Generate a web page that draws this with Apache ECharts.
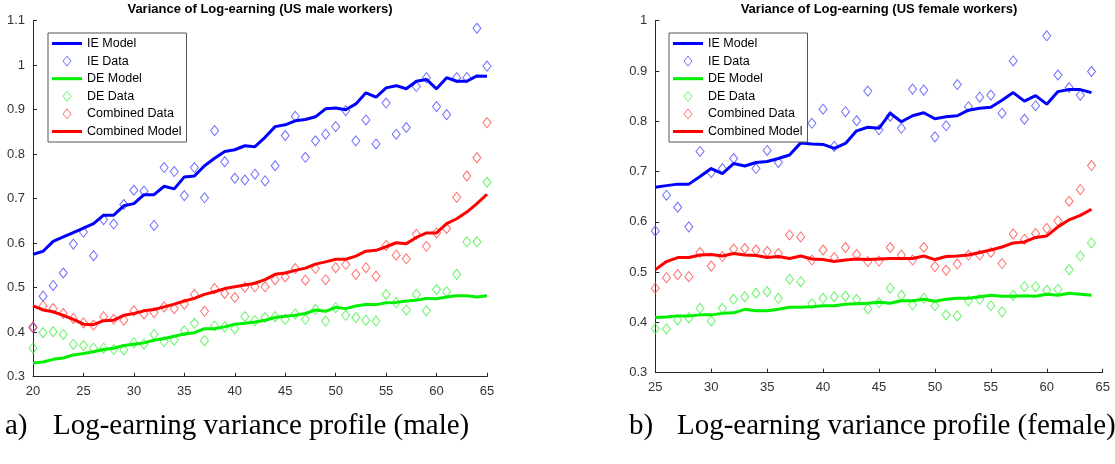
<!DOCTYPE html>
<html><head><meta charset="utf-8">
<script src="https://cdn.jsdelivr.net/npm/echarts@6/dist/echarts.min.js"></script>
<style>html,body{margin:0;padding:0;background:#fff}#c{width:1115px;height:464px}</style>
</head><body><div id="c"></div>
<script>
// ---------- data ----------
const maleAges = [20,21,22,23,24,25,26,27,28,29,30,31,32,33,34,35,36,37,38,39,40,41,42,43,44,45,46,47,48,49,50,51,52,53,54,55,56,57,58,59,60,61,62,63,64,65];
const maleIEModel = [0.575,0.582,0.604,0.614,0.624,0.634,0.644,0.663,0.663,0.684,0.689,0.709,0.709,0.728,0.722,0.749,0.751,0.774,0.791,0.806,0.810,0.819,0.817,0.838,0.862,0.866,0.875,0.878,0.884,0.902,0.904,0.900,0.913,0.938,0.928,0.949,0.954,0.947,0.964,0.968,0.947,0.972,0.964,0.964,0.976,0.975];
const maleIEData = [0.410,0.481,0.505,0.533,0.598,0.625,0.572,0.653,0.643,0.687,0.719,0.717,0.640,0.770,0.761,0.707,0.770,0.702,0.853,0.783,0.746,0.742,0.755,0.740,0.774,0.842,0.885,0.793,0.830,0.845,0.862,0.898,0.830,0.877,0.823,0.915,0.845,0.860,0.952,0.972,0.907,0.889,0.972,0.972,1.083,0.998];
const maleDEModel = [0.331,0.333,0.339,0.342,0.349,0.352,0.356,0.361,0.364,0.370,0.373,0.376,0.382,0.386,0.391,0.396,0.399,0.408,0.408,0.412,0.418,0.420,0.423,0.427,0.433,0.436,0.438,0.442,0.450,0.447,0.456,0.453,0.459,0.462,0.462,0.466,0.467,0.470,0.472,0.476,0.475,0.479,0.482,0.482,0.479,0.482];
const maleDEData = [0.364,0.399,0.401,0.395,0.373,0.370,0.364,0.364,0.361,0.360,0.376,0.373,0.395,0.379,0.382,0.403,0.420,0.381,0.414,0.412,0.408,0.435,0.426,0.433,0.435,0.429,0.441,0.429,0.451,0.425,0.455,0.438,0.433,0.427,0.425,0.485,0.466,0.450,0.485,0.448,0.496,0.491,0.530,0.603,0.603,0.737];
const maleCombData = [0.412,0.459,0.453,0.442,0.431,0.421,0.416,0.435,0.429,0.427,0.448,0.441,0.444,0.457,0.453,0.463,0.485,0.447,0.498,0.487,0.478,0.501,0.502,0.502,0.518,0.524,0.543,0.517,0.543,0.518,0.545,0.552,0.530,0.545,0.526,0.595,0.573,0.565,0.620,0.593,0.623,0.633,0.703,0.751,0.792,0.871];
const maleCombModel = [0.459,0.450,0.446,0.438,0.429,0.418,0.417,0.426,0.427,0.438,0.442,0.448,0.451,0.457,0.463,0.470,0.476,0.485,0.491,0.498,0.502,0.506,0.510,0.518,0.530,0.533,0.539,0.544,0.553,0.558,0.564,0.564,0.571,0.582,0.584,0.592,0.601,0.599,0.613,0.623,0.623,0.644,0.655,0.670,0.689,0.710];

const femAges = [25,26,27,28,29,30,31,32,33,34,35,36,37,38,39,40,41,42,43,44,45,46,47,48,49,50,51,52,53,54,55,56,57,58,59,60,61,62,63,64];
const femIEModel = [0.669,0.672,0.675,0.675,0.690,0.706,0.696,0.716,0.711,0.718,0.720,0.726,0.733,0.757,0.755,0.754,0.746,0.756,0.781,0.788,0.786,0.816,0.799,0.811,0.817,0.805,0.809,0.811,0.822,0.826,0.828,0.842,0.857,0.840,0.851,0.834,0.859,0.863,0.863,0.857];
const femIEData = [0.582,0.653,0.629,0.590,0.740,0.698,0.706,0.726,0.773,0.706,0.742,0.718,0.800,0.805,0.796,0.824,0.750,0.819,0.801,0.860,0.783,0.810,0.786,0.864,0.862,0.769,0.791,0.873,0.829,0.848,0.852,0.816,0.920,0.804,0.831,0.970,0.892,0.867,0.852,0.899];
const femDEModel = [0.410,0.411,0.413,0.413,0.415,0.415,0.418,0.419,0.426,0.423,0.423,0.426,0.430,0.430,0.431,0.433,0.433,0.436,0.437,0.438,0.440,0.438,0.443,0.443,0.446,0.442,0.446,0.448,0.448,0.451,0.454,0.452,0.452,0.453,0.452,0.456,0.454,0.458,0.456,0.454];
const femDEData = [0.388,0.387,0.405,0.409,0.428,0.403,0.428,0.446,0.451,0.458,0.461,0.448,0.486,0.481,0.437,0.448,0.451,0.452,0.446,0.427,0.439,0.468,0.454,0.435,0.448,0.433,0.415,0.413,0.443,0.446,0.433,0.421,0.454,0.471,0.471,0.464,0.466,0.505,0.532,0.558];
const femCombData = [0.468,0.489,0.495,0.491,0.539,0.512,0.531,0.546,0.547,0.544,0.541,0.537,0.574,0.570,0.524,0.544,0.529,0.549,0.535,0.521,0.522,0.549,0.534,0.524,0.549,0.511,0.504,0.516,0.534,0.534,0.539,0.517,0.576,0.565,0.577,0.587,0.602,0.641,0.664,0.712];
const femCombModel = [0.505,0.521,0.529,0.529,0.534,0.535,0.532,0.537,0.534,0.533,0.529,0.531,0.527,0.532,0.526,0.525,0.521,0.524,0.526,0.525,0.526,0.527,0.527,0.527,0.532,0.525,0.531,0.532,0.534,0.539,0.544,0.550,0.558,0.560,0.569,0.572,0.590,0.604,0.613,0.625];

const seriesNames = ['IE Model','IE Data','DE Model','DE Data','Combined Data','Combined Model'];
const maleXTicks = {min:20, max:65, interval:5};
const maleYTicks = {min:0.3, max:1.1, interval:0.1};
const femXTicks = {min:25, max:65, interval:5};
const femYTicks = {min:0.3, max:1.0, interval:0.1};
const titles = ['Variance of Log-earning (US male workers)', 'Variance of Log-earning (US female workers)'];
const captionLabels = ['a)', 'b)'];
const captions = ['Log-earning variance profile (male)', 'Log-earning variance profile (female)'];

// ---------- styling ----------
const C = {
  blueLine:'#0000ff', blueMark:'#4a4aff',
  greenLine:'#00ee00', greenMark:'#3ff03f',
  redLine:'#ff0000', redMark:'#ff4a4a'
};
const diamondPath = 'path://M4,0L8,5L4,10L0,5Z';
const linePath = 'path://M0,0L30,0L30,3L0,3Z';
const sansFont = '"Liberation Sans", Arial, sans-serif';
const serifFont = '"Liberation Serif", "Times New Roman", serif';

function pairs(xs, ys){ return xs.map((x,i)=>[x, ys[i]]); }
function lineS(name, xs, ys, color, idx){
  return {name, type:'line', xAxisIndex:idx, yAxisIndex:idx, data:pairs(xs,ys),
    symbol:'none', showSymbol:false, lineStyle:{color, width:3}, itemStyle:{color}, silent:true, z:3};
}
function scatS(name, xs, ys, color, idx){
  return {name, type:'scatter', xAxisIndex:idx, yAxisIndex:idx, data:pairs(xs,ys),
    symbol:'diamond', symbolSize:[8,10],
    itemStyle:{color:'rgba(0,0,0,0)', borderColor:color, borderWidth:1}, silent:true, z:2};
}
function chartSeries(xs, d, idx){
  return [
    lineS('IE Model', xs, d[0], C.blueLine, idx),
    scatS('IE Data', xs, d[1], C.blueMark, idx),
    lineS('DE Model', xs, d[2], C.greenLine, idx),
    scatS('DE Data', xs, d[3], C.greenMark, idx),
    scatS('Combined Data', xs, d[4], C.redMark, idx),
    lineS('Combined Model', xs, d[5], C.redLine, idx)
  ];
}
const markColors = {'IE Data':C.blueMark, 'DE Data':C.greenMark, 'Combined Data':C.redMark};
const lineColors = {'IE Model':C.blueLine, 'DE Model':C.greenLine, 'Combined Model':C.redLine};
function legendData(){
  return seriesNames.map(n => markColors[n]
    ? {name:n, icon:diamondPath, itemStyle:{color:'rgba(0,0,0,0)', borderColor:markColors[n], borderWidth:1}}
    : {name:n, icon:linePath, itemStyle:{color:lineColors[n], borderWidth:0}});
}
function legendOpt(left){
  return {orient:'vertical', left, top:33, padding:[4,5,4,4], itemWidth:30, itemHeight:10, itemGap:4.6,
    backgroundColor:'#fff', borderColor:'#555', borderWidth:1, borderRadius:0,
    selectedMode:false, data:legendData(),
    textStyle:{color:'#000', fontSize:12.5, fontFamily:sansFont, lineHeight:12.5}};
}
function xAx(idx, t){
  return {type:'value', gridIndex:idx, min:t.min, max:t.max, interval:t.interval,
    axisLine:{show:true, onZero:false, lineStyle:{color:'#262626', width:1}},
    axisTick:{show:true, inside:true, length:4, lineStyle:{color:'#262626'}},
    axisLabel:{color:'#333', fontSize:13, fontFamily:sansFont, margin:8},
    splitLine:{show:false}};
}
function yAx(idx, t){
  return {type:'value', gridIndex:idx, min:t.min, max:t.max, interval:t.interval,
    axisLine:{show:true, onZero:false, lineStyle:{color:'#262626', width:1}},
    axisTick:{show:true, inside:true, length:4, lineStyle:{color:'#262626'}},
    axisLabel:{color:'#333', fontSize:13, fontFamily:sansFont, margin:8,
      formatter:v => String(Math.round(v*10)/10)},
    splitLine:{show:false}};
}
function txt(text, x, y, font, align){
  return {type:'text', silent:true, z:10, style:{text, x, y, font, fill:'#000', align:align||'left', verticalAlign:'middle'}};
}

const option = {
  animation:false,
  backgroundColor:'#fff',
  grid:[
    {left:33, top:20.7, width:454, height:356},
    {left:655.3, top:20.7, width:447.4, height:352}
  ],
  xAxis:[xAx(0, maleXTicks), xAx(1, femXTicks)],
  yAxis:[yAx(0, maleYTicks), yAx(1, femYTicks)],
  legend:[legendOpt(48), legendOpt(669)],
  series:[].concat(
    chartSeries(maleAges, [maleIEModel, maleIEData, maleDEModel, maleDEData, maleCombData, maleCombModel], 0),
    chartSeries(femAges, [femIEModel, femIEData, femDEModel, femDEData, femCombData, femCombModel], 1)
  ),
  graphic:[
    txt(titles[0], 260, 9, 'bold 13px ' + sansFont, 'center'),
    txt(titles[1], 879, 9, 'bold 13px ' + sansFont, 'center'),
    txt(captionLabels[0], 5, 426, '29px ' + serifFont),
    txt(captions[0], 53, 426, '29px ' + serifFont),
    txt(captionLabels[1], 629, 426, '29px ' + serifFont),
    txt(captions[1], 677, 426, '29px ' + serifFont)
  ]
};
const chart = echarts.init(document.getElementById('c'), null, {renderer:'canvas'});
chart.setOption(option);
</script>
</body></html>
